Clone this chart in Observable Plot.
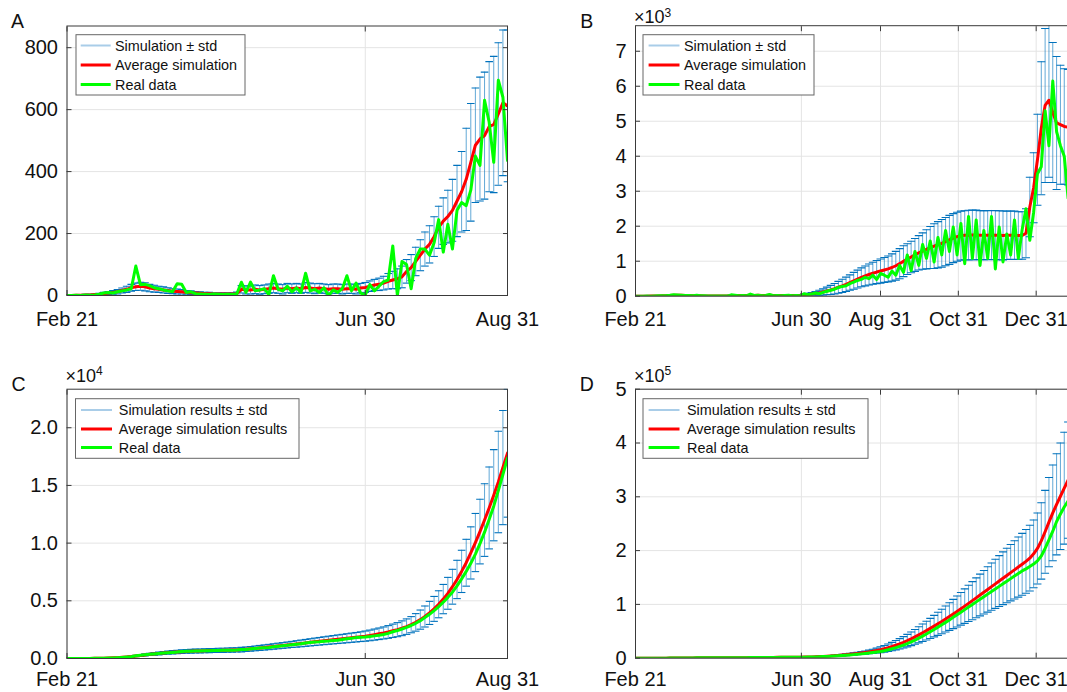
<!DOCTYPE html>
<html>
<head>
<meta charset="utf-8">
<script src="https://cdn.jsdelivr.net/npm/d3@7"></script>
<script src="https://cdn.jsdelivr.net/npm/@observablehq/plot@0.6"></script>
<style>
  html, body { margin: 0; padding: 0; background: #fff; overflow: hidden; }
  #fig { position: relative; width: 1067px; height: 692px; overflow: hidden;
         font-family: "Liberation Sans", Arial, Helvetica, sans-serif; background: #fff; }
  .panel { position: absolute; }
  .panel svg { max-width: none; overflow: visible; }
</style>
</head>
<body>
<div id="fig"></div>
<script>
// ---------- data ----------
const START = "2020-02-21";

// Panel A: daily cases (first wave), one value every 2 days, Feb 21 .. Aug 31
const aStepDays = 2;
const aMean = [
  0, 0, 1, 1, 2, 2, 3, 4, 6, 8,
  10, 12, 16, 20, 25, 28, 30, 28, 24, 22,
  20, 18, 16, 14, 13, 12, 10, 9, 8, 7,
  6, 6, 5, 5, 5, 5, 5, 6, 20, 18,
  18, 20, 18, 20, 22, 24, 22, 20, 24, 22,
  24, 22, 26, 24, 22, 24, 22, 20, 22, 22,
  20, 22, 22, 20, 24, 26, 30, 34, 36, 40,
  46, 50, 54, 60, 78, 90, 110, 130, 150, 165,
  190, 220, 240, 255, 275, 305, 335, 375, 430, 485,
  505, 516, 545, 552, 586, 622, 612
];
const aStd = [
  1, 1, 1, 1, 2, 2, 2, 3, 4, 5,
  6, 7, 8, 10, 11, 12, 13, 13, 12, 11,
  10, 10, 9, 8, 8, 7, 6, 6, 5, 5,
  4, 4, 4, 4, 4, 4, 4, 5, 12, 13,
  13, 14, 14, 14, 15, 15, 15, 15, 15, 15,
  15, 15, 16, 16, 16, 15, 15, 15, 15, 15,
  15, 15, 15, 15, 15, 16, 17, 18, 20, 22,
  25, 28, 32, 35, 38, 42, 46, 50, 55, 60,
  64, 68, 75, 85, 100, 115, 130, 165, 190, 185,
  200, 205, 210, 220, 230, 235, 245
];
const aReal = [
  0, 0, 1, 0, 2, 1, 2, 4, 8, 10,
  8, 12, 15, 18, 22, 95, 35, 36, 32, 25,
  22, 18, 15, 12, 38, 36, 10, 12, 6, 5,
  4, 3, 5, 4, 3, 4, 3, 5, 43, 10,
  43, 15, 18, 22, 3, 64, 20, 15, 30, 12,
  25, 10, 72, 15, 20, 10, 25, 0, 18, 10,
  22, 64, 15, 40, 8, 2, 35, 15, 30, 45,
  50, 160, 0, 110, 100, 22, 120, 150, 150, 130,
  170, 245, 140, 230, 150, 275, 300, 290, 340, 450,
  420, 630, 560, 430, 695, 640, 436
];

// Panel B: daily cases over the longer horizon, one value every 3 days
const bStepDays = 3;
const bMean = [
  0, 1, 1, 2, 3, 5, 8, 11, 16, 22,
  28, 29, 24, 21, 18, 15, 13, 11, 9, 7,
  6, 5, 5, 5, 5, 15, 16, 19, 18, 21,
  24, 21, 24, 23, 22, 25, 22, 23, 20, 22,
  21, 22, 21, 25, 35, 45, 60, 75, 95, 120,
  150, 180, 215, 255, 295, 340, 390, 440, 490, 540,
  580, 620, 655, 690, 720, 750, 780, 820, 870, 930,
  1000, 1060, 1120, 1180, 1240, 1290, 1340, 1390, 1430, 1470,
  1510, 1560, 1610, 1660, 1700, 1730, 1740, 1745, 1750, 1750,
  1745, 1740, 1745, 1750, 1745, 1740, 1735, 1740, 1745, 1740,
  1735, 1735, 1800, 2550, 3100, 3900, 4800, 5450, 5600, 5250,
  4950, 4900, 4850, 4830, 4800, 4780
];
const bStd = [
  0, 1, 1, 1, 2, 3, 4, 5, 6, 8,
  9, 9, 8, 8, 7, 6, 5, 5, 4, 4,
  3, 3, 3, 3, 3, 10, 10, 10, 10, 11,
  11, 11, 11, 11, 11, 11, 11, 11, 11, 11,
  11, 11, 11, 15, 25, 35, 45, 60, 75, 90,
  110, 130, 150, 170, 190, 205, 220, 240, 255, 270,
  285, 300, 315, 330, 345, 355, 370, 390, 410, 430,
  440, 440, 450, 470, 490, 520, 560, 600, 640, 660,
  680, 690, 700, 700, 700, 700, 700, 710, 710, 710,
  700, 700, 700, 700, 700, 700, 700, 690, 690, 690,
  680, 680, 700, 850, 1000, 1300, 1900, 2200, 2200, 2000,
  1900, 1700, 1650, 1650, 1650, 1650
];
const bReal = [
  0, 2, 0, 3, 2, 5, 10, 12, 15, 25,
  40, 35, 28, 22, 18, 12, 25, 10, 12, 5,
  4, 3, 4, 3, 4, 40, 30, 15, 20, 10,
  60, 20, 30, 15, 20, 50, 15, 20, 12, 20,
  25, 15, 20, 10, 70, 40, 60, 90, 70, 110,
  140, 170, 200, 250, 280, 300, 360, 400, 450, 480,
  540, 500, 600, 480, 650, 600, 540, 720, 600, 880,
  680, 1180, 730, 1280, 880, 1480, 1080, 1580, 980, 1680,
  1180, 1880, 1280, 1980, 1180, 2080, 930, 2280, 1080, 2180,
  880, 1880, 1080, 2280, 780, 1980, 980, 1780, 1180, 2180,
  1080, 1900, 2500, 1600, 2400, 3500, 3700, 5300, 4300, 6150,
  4700, 4300, 4000, 2800, 2600, 2500
];

// Panel C: cumulative cases matching panel A, one value every 2 days
const cStepDays = 2;
const cMean = [
  0, 1, 2, 4, 7, 10, 14, 20, 28, 40,
  55, 75, 100, 130, 165, 210, 260, 310, 360, 400,
  440, 475, 510, 540, 565, 590, 610, 630, 645, 660,
  672, 684, 694, 704, 714, 724, 734, 745, 770, 805,
  840, 878, 915, 955, 995, 1040, 1085, 1128, 1172, 1218,
  1262, 1306, 1352, 1400, 1446, 1492, 1538, 1582, 1626, 1670,
  1712, 1756, 1800, 1844, 1890, 1940, 2000, 2070, 2140, 2215,
  2300, 2400, 2500, 2620, 2760, 2930, 3130, 3370, 3640, 3950,
  4300, 4700, 5150, 5650, 6220, 6850, 7550, 8300, 9150, 10050,
  11000, 12000, 13050, 14150, 15300, 16550, 17800
];
const cStd = [
  0, 0, 1, 1, 2, 3, 4, 6, 9, 12,
  17, 23, 30, 40, 50, 62, 75, 88, 100, 112,
  122, 130, 138, 145, 150, 155, 160, 163, 166, 169,
  172, 174, 176, 178, 180, 182, 184, 186, 192, 198,
  204, 210, 216, 222, 228, 235, 242, 249, 256, 263,
  280, 290, 300, 310, 320, 330, 340, 350, 360, 370,
  380, 390, 400, 410, 420, 440, 460, 480, 500, 520,
  550, 580, 610, 640, 670, 700, 760, 830, 910, 1000,
  1080, 1170, 1270, 1380, 1510, 1660, 1830, 2030, 2260, 2520,
  2800, 3150, 3550, 3950, 4400, 4950, 5550
];
const cReal = [
  0, 0, 1, 3, 5, 8, 12, 17, 25, 36,
  50, 70, 95, 125, 160, 240, 280, 320, 365, 400,
  440, 475, 505, 530, 560, 600, 620, 635, 648, 660,
  670, 680, 690, 700, 708, 716, 724, 730, 770, 790,
  835, 865, 900, 940, 960, 1010, 1060, 1100, 1140, 1190,
  1230, 1270, 1340, 1380, 1420, 1450, 1490, 1520, 1560, 1590,
  1650, 1720, 1760, 1810, 1850, 1870, 1910, 1960, 2010, 2080,
  2180, 2320, 2420, 2560, 2700, 2860, 3050, 3280, 3550, 3830,
  4150, 4500, 4880, 5300, 5750, 6300, 6900, 7550, 8250, 9050,
  9950, 10950, 12050, 13200, 14550, 15950, 17370
];

// Panel D: cumulative cases matching panel B, one value every 3 days
const dStepDays = 3;
const dMean = [
  0, 2, 5, 10, 17, 28, 45, 70, 110, 170,
  250, 330, 410, 470, 530, 580, 620, 655, 685, 705,
  722, 737, 752, 767, 782, 810, 860, 915, 970, 1030,
  1100, 1165, 1235, 1305, 1370, 1440, 1510, 1575, 1640, 1705,
  1770, 1835, 1900, 1950, 2050, 2200, 2400, 2650, 2950, 3300,
  3700, 4150, 4650, 5200, 5800, 6450, 7150, 7900, 8700, 9550,
  10500, 11600, 12800, 14150, 15700, 17500, 19500, 21700, 24100, 26700,
  29500, 32600, 36000, 39600, 43400, 47300, 51300, 55400, 59600, 63900,
  68300, 72800, 77400, 82100, 86900, 91800, 96800, 101900, 107000, 112200,
  117400, 122600, 127800, 133000, 138200, 143400, 148600, 153800, 159000, 164200,
  169400, 174600, 180000, 186000, 194000, 204000, 218000, 235000, 253000, 270000,
  286000, 301000, 316000, 331000, 345000, 359000
];
const dStd = [
  0, 1, 2, 3, 5, 8, 13, 20, 30, 45,
  65, 85, 100, 115, 125, 135, 145, 150, 155, 160,
  165, 168, 170, 172, 175, 180, 190, 200, 212, 225,
  240, 255, 270, 285, 300, 315, 330, 345, 360, 375,
  390, 405, 420, 440, 460, 490, 530, 580, 650, 740,
  850, 980, 1120, 1280, 1460, 1660, 1880, 2120, 2380, 2660,
  3000, 3400, 3900, 4600, 5500, 6200, 7000, 7800, 8700, 9600,
  10600, 11600, 12700, 13800, 15000, 16200, 17400, 18700, 20000, 21400,
  22800, 24200, 25700, 27200, 28800, 30400, 32000, 33700, 35400, 37100,
  38800, 40500, 42200, 43900, 45600, 47300, 49000, 50700, 52400, 54100,
  55800, 57500, 59200, 61000, 63000, 66000, 71000, 77000, 83000, 89000,
  94000, 99000, 104000, 108000, 112000, 116000
];
const dReal = [
  0, 1, 3, 7, 13, 22, 38, 62, 100, 165,
  250, 340, 420, 480, 535, 580, 620, 655, 680, 700,
  715, 728, 740, 752, 765, 790, 840, 890, 945, 1000,
  1070, 1130, 1200, 1270, 1330, 1400, 1470, 1530, 1600, 1660,
  1720, 1790, 1850, 1900, 1980, 2100, 2250, 2450, 2700, 3000,
  3300, 3650, 4050, 4500, 5000, 5500, 6050, 6650, 7300, 8050,
  8900, 9700, 10500, 11400, 12400, 13900, 15600, 17500, 19600, 21900,
  24400, 27200, 30300, 33700, 37300, 41100, 45100, 49200, 53400, 57700,
  62100, 66600, 71200, 75900, 80700, 85500, 90300, 95100, 99900, 104700,
  109500, 114300, 119100, 123900, 128700, 133500, 138300, 143100, 147900, 152700,
  157500, 162300, 166000, 170500, 175000, 181000, 190000, 204000, 220000, 236000,
  254000, 268000, 281000, 292000, 301000, 309000
];

// Axis ticks and labels
const shortXTicks = ["2020-02-21", "2020-06-30", "2020-08-31"];
const shortXLabels = ["Feb 21", "Jun 30", "Aug 31"];
const longXTicks = ["2020-02-21", "2020-06-30", "2020-08-31", "2020-10-31", "2020-12-31"];
const longXLabels = ["Feb 21", "Jun 30", "Aug 31", "Oct 31", "Dec 31"];
const shortXEnd = "2020-08-31";
const longXEnd = "2021-02-10";

const aYTicks = [0, 200, 400, 600, 800];
const aYLabels = ["0", "200", "400", "600", "800"];
const bYTicks = [0, 1000, 2000, 3000, 4000, 5000, 6000, 7000];
const bYLabels = ["0", "1", "2", "3", "4", "5", "6", "7"];
const cYTicks = [0, 5000, 10000, 15000, 20000];
const cYLabels = ["0.0", "0.5", "1.0", "1.5", "2.0"];
const dYTicks = [0, 100000, 200000, 300000, 400000, 500000];
const dYLabels = ["0", "1", "2", "3", "4", "5"];

const legendShort = ["Simulation \u00b1 std", "Average simulation", "Real data"];
const legendLong = ["Simulation results \u00b1 std", "Average simulation results", "Real data"];

// ---------- drawing ----------
const BLUE = "#0072BD";
const GRID = "#e4e4e4";
const FRAME = "#3a3a3a";
const FONT = "'Liberation Sans', Arial, Helvetica, sans-serif";
const start = d3.isoParse(START);

function table(step, mean, std, real) {
  if (std.length !== mean.length || real.length !== mean.length)
    throw new Error("series length mismatch " + mean.length + "/" + std.length + "/" + real.length);
  return mean.map((m, i) => ({
    date: d3.utcDay.offset(start, i * step),
    mean: m, lo: m - std[i], hi: m + std[i], real: real[i]
  }));
}

function lookup(values, labels) {
  const m = new Map(values.map((v, i) => [+v, labels[i]]));
  return d => m.get(+d) ?? "";
}

// horizontal cap drawn at each end of an error bar
function capSymbol(half) {
  return { draw(ctx) { ctx.moveTo(-half, 0); ctx.lineTo(half, 0); } };
}

function panel(o) {
  const data = table(o.step, o.mean, o.std, o.real);
  const xt = o.xTicks.map(d3.isoParse);
  const cap = capSymbol(o.cap);
  const chart = Plot.plot({
    width: o.width, height: o.height,
    marginLeft: o.ml, marginRight: o.mr, marginTop: o.mt, marginBottom: o.mb,
    style: { fontFamily: FONT, fontSize: "20px", color: "#111", background: "transparent", overflow: "visible" },
    x: { type: "utc", domain: [start, d3.isoParse(o.xEnd)] },
    y: { domain: o.yDomain },
    marks: [
      Plot.gridX(xt, { stroke: GRID, strokeOpacity: 1 }),
      Plot.gridY(o.yTicks, { stroke: GRID, strokeOpacity: 1 }),
      Plot.ruleX(data, { x: "date", y1: "lo", y2: "hi", stroke: BLUE, strokeWidth: 1, strokeOpacity: 0.62, clip: true }),
      Plot.dot(data, { x: "date", y: "hi", symbol: cap, stroke: BLUE, fill: "none", strokeWidth: 1.1, strokeOpacity: 1, clip: true }),
      Plot.dot(data, { x: "date", y: "lo", symbol: cap, stroke: BLUE, fill: "none", strokeWidth: 1.1, strokeOpacity: 1, clip: true }),
      Plot.line(data, { x: "date", y: "mean", stroke: "#ff0000", strokeWidth: 3, clip: true }),
      Plot.line(data, { x: "date", y: "real", stroke: "#00ff00", strokeWidth: 3, clip: true }),
      Plot.frame({ stroke: FRAME, strokeWidth: 1 }),
      Plot.axisX(xt, { anchor: "bottom", tickSize: -5, tickPadding: o.xPad, tickFormat: lookup(xt, o.xLabels), stroke: FRAME, fontSize: 20 }),
      Plot.axisX(xt, { anchor: "top", tickSize: -5, tickFormat: () => "", stroke: FRAME }),
      Plot.axisY(o.yTicks, { anchor: "left", tickSize: -5, tickPadding: 14, tickFormat: lookup(o.yTicks, o.yLabels), stroke: FRAME, fontSize: 20 }),
      Plot.axisY(o.yTicks, { anchor: "right", tickSize: -5, tickFormat: () => "", stroke: FRAME })
    ]
  });
  const div = document.createElement("div");
  div.className = "panel";
  div.style.left = o.left + "px";
  div.style.top = o.top + "px";
  div.style.width = o.width + "px";
  div.appendChild(chart);
  document.getElementById("fig").appendChild(div);
}

panel({ left: 0, top: 0, width: 540, height: 340, ml: 66.5, mr: 33, mt: 25.5, mb: 45,
  step: aStepDays, mean: aMean, std: aStd, real: aReal, cap: 3.8,
  xTicks: shortXTicks, xLabels: shortXLabels, xEnd: shortXEnd, xPad: 21.7,
  yDomain: [0, 870], yTicks: aYTicks, yLabels: aYLabels });

panel({ left: 540, top: 0, width: 558, height: 340, ml: 95, mr: 10, mt: 25.2, mb: 44.3,
  step: bStepDays, mean: bMean, std: bStd, real: bReal, cap: 4,
  xTicks: longXTicks, xLabels: longXLabels, xEnd: longXEnd, xPad: 20.8,
  yDomain: [0, 7730], yTicks: bYTicks, yLabels: bYLabels });

panel({ left: 0, top: 340, width: 540, height: 352, ml: 66.5, mr: 33, mt: 48.7, mb: 34,
  step: cStepDays, mean: cMean, std: cStd, real: cReal, cap: 3.8,
  xTicks: shortXTicks, xLabels: shortXLabels, xEnd: shortXEnd, xPad: 18.7,
  yDomain: [0, 23340], yTicks: cYTicks, yLabels: cYLabels });

panel({ left: 540, top: 340, width: 558, height: 352, ml: 95, mr: 10, mt: 48.7, mb: 34.3,
  step: dStepDays, mean: dMean, std: dStd, real: dReal, cap: 4,
  xTicks: longXTicks, xLabels: longXLabels, xEnd: longXEnd, xPad: 18.8,
  yDomain: [0, 500000], yTicks: dYTicks, yLabels: dYLabels });

// ---------- panel letters, exponent labels and legends ----------
const over = d3.select("#fig").append("svg")
  .attr("width", 1067).attr("height", 692)
  .style("position", "absolute").style("left", 0).style("top", 0)
  .style("font-family", FONT);

[["A", 11, 28.3], ["B", 580.3, 28.3], ["C", 11.4, 390.7], ["D", 579.7, 390.7]].forEach(([t, x, y]) =>
  over.append("text").attr("x", x).attr("y", y).attr("font-size", 19.5).attr("fill", "#111").text(t));

[["3", 634, 23.3], ["4", 65.4, 381.7], ["5", 634, 381.7]].forEach(([p, x, y]) => {
  const t = over.append("text").attr("x", x).attr("y", y).attr("font-size", 18).attr("fill", "#111");
  t.append("tspan").text("\u00d710");
  t.append("tspan").attr("dy", -6.8).attr("font-size", 12).text(p);
});

function legend(g) {
  over.append("rect").attr("x", g.x0).attr("y", g.y0).attr("width", g.x1 - g.x0).attr("height", g.y1 - g.y0)
    .attr("fill", "#fff").attr("stroke", "#666").attr("stroke-width", 1);
  const styles = [{ c: "#a9cde8", w: 2 }, { c: "#ff0000", w: 3 }, { c: "#00ff00", w: 3 }];
  g.labels.forEach((lab, i) => {
    const y = g.rows[i];
    over.append("line").attr("x1", g.l0).attr("x2", g.l1).attr("y1", y).attr("y2", y)
      .attr("stroke", styles[i].c).attr("stroke-width", styles[i].w);
    over.append("text").attr("x", g.tx).attr("y", y).attr("dy", "0.35em")
      .attr("font-size", 14.4).attr("fill", "#111").text(lab);
  });
}
legend({ x0: 76, x1: 245, y0: 34.7, y1: 95, l0: 80.7, l1: 110.7, tx: 115, rows: [45.5, 65, 84.5], labels: legendShort });
legend({ x0: 643, x1: 814, y0: 34.7, y1: 95, l0: 648.6, l1: 679.5, tx: 684, rows: [45.5, 65, 84.5], labels: legendShort });
legend({ x0: 75.5, x1: 299, y0: 398.7, y1: 458.3, l0: 81, l1: 112, tx: 118.8, rows: [410, 429, 447.5], labels: legendLong });
legend({ x0: 643, x1: 868, y0: 398.7, y1: 458.3, l0: 648.6, l1: 679.5, tx: 687, rows: [410, 429, 447.5], labels: legendLong });
</script>
</body>
</html>
